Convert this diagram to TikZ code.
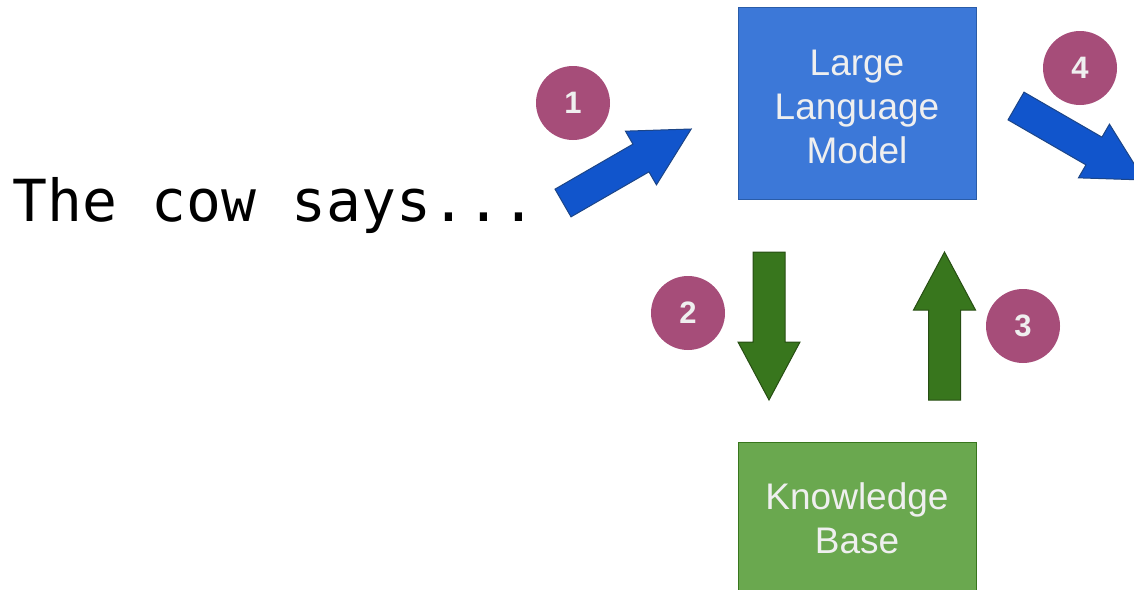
\documentclass[tikz,border=0pt]{standalone}
\usepackage{fontspec}
\setmainfont{Liberation Sans}
\newfontfamily\cowfont{DejaVu Sans Mono}
\usepackage{tikz}

\definecolor{llmblue}{HTML}{3C78D8}
\definecolor{llmedge}{HTML}{2A5CA8}
\definecolor{kbgreen}{HTML}{6AA84F}
\definecolor{kbedge}{HTML}{38761D}
\definecolor{stepplum}{HTML}{A64D79}
\definecolor{flowblue}{HTML}{1155CC}
\definecolor{flowblueedge}{HTML}{1C4587}
\definecolor{flowgreen}{HTML}{38761D}
\definecolor{flowgreenedge}{HTML}{274E13}
\definecolor{paletext}{HTML}{EFEFEF}

\tikzset{
	box/.style={shape=rectangle,draw,line width=1pt,minimum width=238pt,text=paletext,
		align=center,font=\fontsize{37}{44}\selectfont},
	stepnum/.style={shape=circle,fill=stepplum,minimum size=74pt,inner sep=0pt,
		text=paletext,font=\fontsize{31}{36}\selectfont\bfseries},
	bluearrow/.style={fill=flowblue,draw=flowblueedge,line width=1pt,line join=miter},
	greenarrow/.style={fill=flowgreen,draw=flowgreenedge,line width=1pt,line join=miter}
}

% fat block arrow: style, tail point, direction
\newcommand{\fatarrow}[3]{%
	\draw[#1,shift={#2},rotate=#3] (0,-16) -- (90,-16) -- (90,-31) -- (148,0)
		-- (90,31) -- (90,16) -- (0,16) -- cycle;}

\begin{document}
\begin{tikzpicture}[x=1pt,y=-1pt]
	\clip (0,0) rectangle (1134,589);

	\node[box,fill=llmblue,draw=llmedge,minimum height=192pt] (llm) at (857,103) {\rule{0pt}{34pt}Large\\Language\\Model};
	\node[box,fill=kbgreen,draw=kbedge,minimum height=152pt] (kb) at (857,518) {Knowledge\\Base};

	\node[anchor=base west,inner sep=0pt,font=\cowfont\fontsize{58}{66}\selectfont] (prompt) at (12,221) {The cow says...};

	\node[stepnum] (one) at (573,103) {1};
	\node[stepnum] (two) at (688,313) {2};
	\node[stepnum] (three) at (1023,326) {3};
	\node[stepnum] (four) at (1080,68) {4};

	\fatarrow{bluearrow}{(563,203)}{30}
	\fatarrow{greenarrow}{(769,252)}{-90}
	\fatarrow{greenarrow}{(944.5,400)}{90}
	\fatarrow{bluearrow}{(1016,106)}{-30}

\end{tikzpicture}
\end{document}
